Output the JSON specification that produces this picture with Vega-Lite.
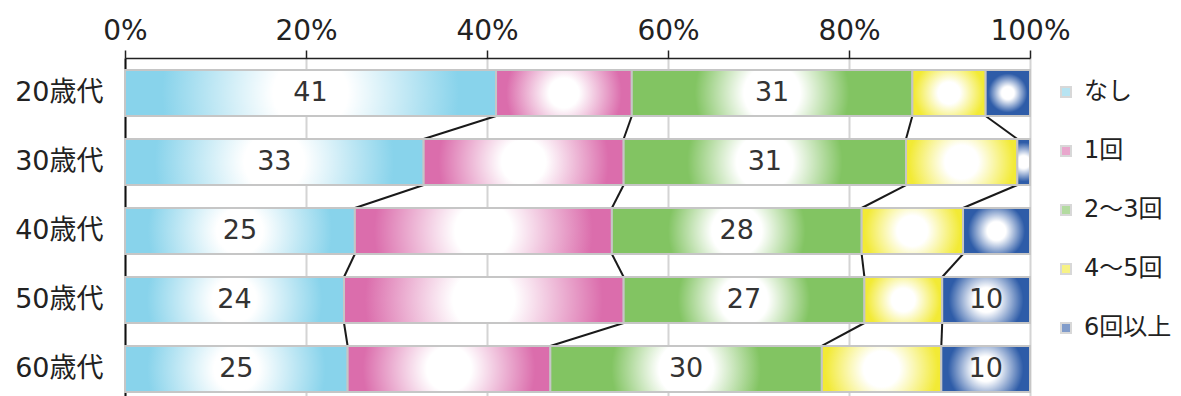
{
  "$schema": "https://vega.github.io/schema/vega-lite/v6.json",
  "width": 905,
  "height": 338,
  "autosize": {"type": "none"},
  "padding": {"left": 125, "top": 58, "right": 151, "bottom": 0},
  "background": "white",
  "config": {"font": "DejaVu Sans, Noto Sans CJK JP", "view": {"stroke": null}},
  "data": {
    "values": [
      {"age": "20歳代", "series": "なし", "k": 0, "value": 41.0},
      {"age": "20歳代", "series": "1回", "k": 1, "value": 15.0},
      {"age": "20歳代", "series": "2～3回", "k": 2, "value": 31.0},
      {"age": "20歳代", "series": "4～5回", "k": 3, "value": 8.1},
      {"age": "20歳代", "series": "6回以上", "k": 4, "value": 4.9},
      {"age": "30歳代", "series": "なし", "k": 0, "value": 33.0},
      {"age": "30歳代", "series": "1回", "k": 1, "value": 22.1},
      {"age": "30歳代", "series": "2～3回", "k": 2, "value": 31.2},
      {"age": "30歳代", "series": "4～5回", "k": 3, "value": 12.3},
      {"age": "30歳代", "series": "6回以上", "k": 4, "value": 1.4},
      {"age": "40歳代", "series": "なし", "k": 0, "value": 25.4},
      {"age": "40歳代", "series": "1回", "k": 1, "value": 28.4},
      {"age": "40歳代", "series": "2～3回", "k": 2, "value": 27.6},
      {"age": "40歳代", "series": "4～5回", "k": 3, "value": 11.2},
      {"age": "40歳代", "series": "6回以上", "k": 4, "value": 7.4},
      {"age": "50歳代", "series": "なし", "k": 0, "value": 24.2},
      {"age": "50歳代", "series": "1回", "k": 1, "value": 30.9},
      {"age": "50歳代", "series": "2～3回", "k": 2, "value": 26.6},
      {"age": "50歳代", "series": "4～5回", "k": 3, "value": 8.6},
      {"age": "50歳代", "series": "6回以上", "k": 4, "value": 9.7},
      {"age": "60歳代", "series": "なし", "k": 0, "value": 24.6},
      {"age": "60歳代", "series": "1回", "k": 1, "value": 22.4},
      {"age": "60歳代", "series": "2～3回", "k": 2, "value": 30.0},
      {"age": "60歳代", "series": "4～5回", "k": 3, "value": 13.2},
      {"age": "60歳代", "series": "6回以上", "k": 4, "value": 9.8}
    ]
  },
  "layer": [
    {
      "transform": [
        {"stack": "value", "groupby": ["age"], "sort": [{"field": "k"}], "offset": "normalize", "as": ["x0", "x1"]},
        {"window": [{"op": "lead", "field": "x1", "as": "nx"}, {"op": "lead", "field": "age", "as": "nage"}], "groupby": ["series"], "sort": [{"field": "age"}]},
        {"filter": "datum.nage != null && datum.k < 4"}
      ],
      "mark": {"type": "rule", "color": "#1a1a1a", "strokeWidth": 2},
      "encoding": {
        "x": {"field": "x1", "type": "quantitative", "scale": {"domain": [0, 1], "nice": false}},
        "x2": {"field": "nx"},
        "y": {"field": "age", "type": "nominal", "bandPosition": 1},
        "y2": {"field": "nage", "bandPosition": 0}
      }
    },
    {
      "mark": {"type": "bar", "stroke": "#c6c6c6", "strokeWidth": 2},
      "encoding": {
        "y": {
          "field": "age", "type": "nominal", "title": null,
          "scale": {"paddingInner": 0.333, "paddingOuter": 0.116, "align": 0.75},
          "axis": {"domain": true, "domainColor": "#111111", "domainWidth": 2, "ticks": false, "labelFontSize": 27, "labelColor": "#222222", "labelPadding": 22, "labelFontWeight": "normal"}
        },
        "x": {
          "field": "value", "type": "quantitative", "stack": "normalize", "title": null,
          "scale": {"domain": [0, 1], "nice": false},
          "axis": {"orient": "top", "values": [0, 0.2, 0.4, 0.6, 0.8, 1], "format": ".0%", "grid": true, "gridColor": "#d4d4d4", "gridWidth": 2, "domainColor": "#222222", "domainWidth": 1.5, "tickColor": "#222222", "tickWidth": 1.5, "tickSize": 8, "labelFontSize": 28, "labelColor": "#222222", "labelPadding": 5, "labelFlush": false}
        },
        "order": {"field": "k", "type": "quantitative"},
        "color": {
          "field": "series", "type": "nominal",
          "scale": {
            "domain": ["なし", "1回", "2～3回", "4～5回", "6回以上"],
            "range": ["#88D3EB", "#DB6DAC", "#82C462", "#F2EA35", "#2E5CA8"]
          },
          "legend": {
            "orient": "none", "legendX": 929, "legendY": 22, "title": null, "symbolType": "square", "symbolSize": 100, "symbolStrokeColor": "#bfbfbf", "symbolStrokeWidth": 2, "symbolOpacity": 0.6, "labelFontSize": 24, "labelColor": "#222222", "labelOffset": 6, "rowPadding": 35, "labelLimit": 200
          }
        }
      }
    },
    {
      "mark": {"type": "bar", "stroke": "#c6c6c6", "strokeWidth": 2},
      "encoding": {
        "y": {"field": "age", "type": "nominal"},
        "x": {"field": "value", "type": "quantitative", "stack": "normalize"},
        "detail": {"field": "series"},
        "order": {"field": "k", "type": "quantitative"},
        "fill": {
          "condition": [
            {"test": "datum.k == 0", "value": {"gradient": "radial", "x1": 0.5, "y1": 0.5, "r1": 0, "x2": 0.5, "y2": 0.5, "r2": 0.5, "stops": [{"offset": 0, "color": "#ffffff"}, {"offset": 0.2, "color": "#ffffff"}, {"offset": 0.8, "color": "#88D3EB"}, {"offset": 1, "color": "#88D3EB"}]}},
            {"test": "datum.k == 1", "value": {"gradient": "radial", "x1": 0.5, "y1": 0.5, "r1": 0, "x2": 0.5, "y2": 0.5, "r2": 0.5, "stops": [{"offset": 0, "color": "#ffffff"}, {"offset": 0.22, "color": "#ffffff"}, {"offset": 0.85, "color": "#DB6DAC"}, {"offset": 1, "color": "#DB6DAC"}]}},
            {"test": "datum.k == 2", "value": {"gradient": "radial", "x1": 0.5, "y1": 0.5, "r1": 0, "x2": 0.5, "y2": 0.5, "r2": 0.5, "stops": [{"offset": 0, "color": "#ffffff"}, {"offset": 0.2, "color": "#ffffff"}, {"offset": 0.55, "color": "#82C462"}, {"offset": 1, "color": "#82C462"}]}},
            {"test": "datum.k == 3", "value": {"gradient": "radial", "x1": 0.5, "y1": 0.5, "r1": 0, "x2": 0.5, "y2": 0.5, "r2": 0.5, "stops": [{"offset": 0, "color": "#ffffff"}, {"offset": 0.3, "color": "#ffffff"}, {"offset": 0.95, "color": "#F2EA35"}, {"offset": 1, "color": "#F2EA35"}]}}
          ],
          "value": {"gradient": "radial", "x1": 0.5, "y1": 0.5, "r1": 0, "x2": 0.5, "y2": 0.5, "r2": 0.5, "stops": [{"offset": 0, "color": "#ffffff"}, {"offset": 0.28, "color": "#ffffff"}, {"offset": 0.85, "color": "#2E5CA8"}, {"offset": 1, "color": "#2E5CA8"}]}
        }
      }
    },
    {
      "mark": {"type": "text", "fontSize": 27, "color": "#333333"},
      "encoding": {
        "y": {"field": "age", "type": "nominal"},
        "x": {"field": "value", "type": "quantitative", "stack": "normalize", "bandPosition": 0.5},
        "detail": {"field": "series"},
        "order": {"field": "k", "type": "quantitative"},
        "text": {
          "condition": {"test": "(datum.k == 0 || datum.k == 2 || datum.k == 4) && datum.value >= 9.5", "field": "value", "type": "quantitative", "format": ".0f"},
          "value": ""
        }
      }
    }
  ]
}
